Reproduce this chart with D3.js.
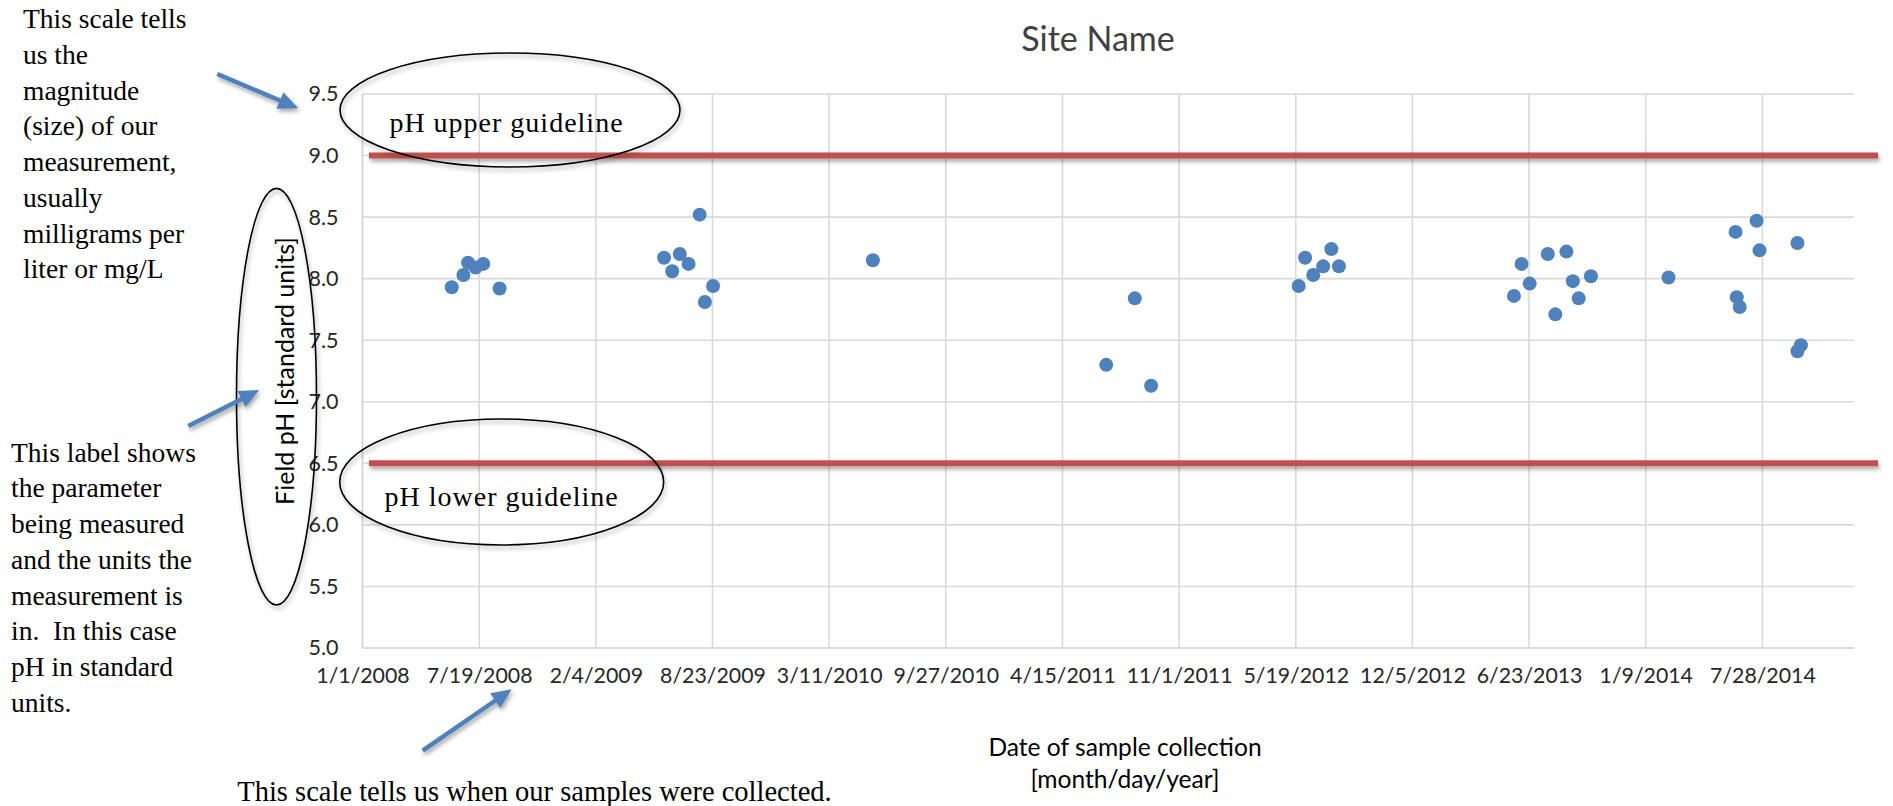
<!DOCTYPE html>
<html><head><meta charset="utf-8">
<script src="https://cdn.jsdelivr.net/npm/d3@7"></script>
<style>body{margin:0;background:#fff} text{white-space:pre}</style>
</head><body>
<svg id="chart" width="1893" height="806"></svg>
<script>
// ---------- data ----------
const sampleDates = ["6/2/2008","6/22/2008","6/30/2008","7/13/2008","7/26/2008","8/23/2008",
  "6/1/2009","6/15/2009","6/28/2009","7/13/2009","8/1/2009","8/10/2009","8/24/2009",
  "5/25/2010",
  "6/29/2011","8/17/2011","9/14/2011",
  "5/24/2012","6/4/2012","6/18/2012","7/5/2012","7/19/2012","8/1/2012",
  "5/28/2013","6/10/2013","6/24/2013","7/25/2013","8/7/2013","8/26/2013","9/6/2013","9/16/2013","10/7/2013",
  "2/17/2014",
  "6/12/2014","6/14/2014","6/19/2014","7/18/2014","7/23/2014","9/26/2014","9/26/2014","10/2/2014"];
const phValues = [7.93,8.03,8.13,8.09,8.12,7.92,
  8.17,8.06,8.20,8.12,8.52,7.81,7.94,
  8.15,
  7.30,7.84,7.13,
  7.94,8.17,8.03,8.10,8.24,8.10,
  7.86,8.12,7.96,8.20,7.71,8.22,7.98,7.84,8.02,
  8.01,
  8.38,7.85,7.77,8.47,8.23,8.29,7.41,7.46];
const xTickLabels = ["1/1/2008","7/19/2008","2/4/2009","8/23/2009","3/11/2010","9/27/2010","4/15/2011",
  "11/1/2011","5/19/2012","12/5/2012","6/23/2013","1/9/2014","7/28/2014"];
const xDomainLabels = ["1/1/2008","1/1/2015"];
const yTickValues = [5.0,5.5,6.0,6.5,7.0,7.5,8.0,8.5,9.0,9.5];
const guidelineValues = [9.0, 6.5];
const guidelineLabels = ["pH upper guideline","pH lower guideline"];
const chartTitle = "Site Name";
const yAxisTitle = "Field pH [standard units]";
const xAxisTitleLines = ["Date of sample collection","[month/day/year]"];
const noteScale = ["This scale tells","us the","magnitude","(size) of our","measurement,","usually","milligrams per","liter or mg/L"];
const noteLabel = ["This label shows","the parameter","being measured","and the units the","measurement is","in.  In this case","pH in standard","units."];
const noteDate = "This scale tells us when our samples were collected.";

// ---------- layout ----------
const parse = d3.utcParse("%m/%d/%Y");
const plot = {left:362.5, right:1854, top:94, bottom:648};
const svg = d3.select("#chart");
const sansFont = "Lato, 'Open Sans', sans-serif";
const serifFont = "'Liberation Serif', 'DejaVu Serif', serif";

const defs = svg.append("defs");
const f = defs.append("filter").attr("id","shadow").attr("filterUnits","userSpaceOnUse")
  .attr("x",0).attr("y",0).attr("width",1893).attr("height",806);
f.append("feDropShadow").attr("dx",1.5).attr("dy",3).attr("stdDeviation",2.2).attr("flood-color","#000").attr("flood-opacity",0.35);

const x = d3.scaleUtc().domain(xDomainLabels.map(parse)).range([plot.left, plot.right]);
const y = d3.scaleLinear().domain([5.0, 9.5]).range([plot.bottom, plot.top]);
const xTicks = xTickLabels.map(parse);

// gridlines
svg.append("g").selectAll("line").data(yTickValues).join("line")
  .attr("x1", plot.left).attr("x2", plot.right)
  .attr("y1", d => y(d)).attr("y2", d => y(d))
  .attr("stroke", d => d === 5.0 ? "#cfcfcf" : "#d9d9d9").attr("stroke-width", 1.6);
svg.append("g").selectAll("line").data(xTicks).join("line")
  .attr("x1", d => x(d)).attr("x2", d => x(d))
  .attr("y1", plot.top).attr("y2", plot.bottom)
  .attr("stroke", (d,i) => i === 0 ? "#cfcfcf" : "#d9d9d9").attr("stroke-width", 1.6);

// axes (labels only)
const yAxis = d3.axisLeft(y).tickValues(yTickValues).tickFormat(d3.format(".1f")).tickSize(0).tickPadding(24);
const gy = svg.append("g").attr("transform", `translate(${plot.left},0)`).call(yAxis);
gy.select(".domain").remove();
gy.selectAll("text").attr("font-family", sansFont).attr("font-size", 21.5).attr("fill", "#262626");

const xAxis = d3.axisBottom(x).tickValues(xTicks).tickFormat((d,i) => xTickLabels[i]).tickSize(0).tickPadding(20);
const gx = svg.append("g").attr("transform", `translate(0,${plot.bottom})`).call(xAxis);
gx.select(".domain").remove();
gx.selectAll("text").attr("font-family", sansFont).attr("font-size", 21.3).attr("fill", "#262626");

// guidelines (red lines)
svg.append("g").attr("filter","url(#shadow)").selectAll("line").data(guidelineValues).join("line")
  .attr("x1", plot.left + 6.5).attr("x2", plot.right + 24)
  .attr("y1", d => y(d)).attr("y2", d => y(d))
  .attr("stroke", "#C0504D").attr("stroke-width", 6);

// points
svg.append("g").selectAll("circle").data(sampleDates.map((d,i) => ({date: parse(d), v: phValues[i]})))
  .join("circle")
  .attr("cx", d => x(d.date)).attr("cy", d => y(d.v)).attr("r", 7)
  .attr("fill", "#4F81BD");

// title and axis titles
svg.append("text").attr("x", 1098).attr("y", 50.7).attr("text-anchor","middle")
  .attr("font-family", sansFont).attr("font-size", 34).attr("fill","#404040").text(chartTitle);
svg.append("text").attr("transform", `translate(294,${(plot.top+plot.bottom)/2}) rotate(-90)`)
  .attr("text-anchor","middle").attr("font-family", sansFont).attr("font-size", 25).attr("fill","#000").text(yAxisTitle);
svg.append("g").selectAll("text").data(xAxisTitleLines).join("text")
  .attr("x", 1125).attr("y", (d,i) => 756 + i*32).attr("text-anchor","middle")
  .attr("font-family", sansFont).attr("font-size", 24.6).attr("fill","#000").text(d => d);

// ellipses
const ellG = svg.append("g").attr("fill","none").attr("stroke","#000").attr("stroke-width",1.6).attr("filter","url(#shadow)");
ellG.append("ellipse").attr("cx",510).attr("cy",110).attr("rx",170).attr("ry",57);
ellG.append("ellipse").attr("cx",501.7).attr("cy",482).attr("rx",162).attr("ry",63);
ellG.append("ellipse").attr("cx",276.5).attr("cy",396.7).attr("rx",40).attr("ry",208.3);

// guideline labels
svg.append("g").selectAll("text").data(guidelineLabels).join("text")
  .attr("x", (d,i) => i === 0 ? 389.4 : 384.6).attr("y", (d,i) => i === 0 ? 131.7 : 506)
  .attr("font-family", serifFont).attr("font-size", 28).attr("letter-spacing", 1).attr("fill","#000").text(d => d);

// notes
svg.append("g").selectAll("text").data(noteScale).join("text")
  .attr("x", 23).attr("y", (d,i) => 28.3 + i*35.7)
  .attr("font-family", serifFont).attr("font-size", 27.5).attr("fill","#000").text(d => d);
svg.append("g").selectAll("text").data(noteLabel).join("text")
  .attr("x", 11).attr("y", (d,i) => 461.7 + i*35.7)
  .attr("font-family", serifFont).attr("font-size", 27.5).attr("fill","#000").text(d => d);
svg.append("text").attr("x", 237.3).attr("y", 800.7)
  .attr("font-family", serifFont).attr("font-size", 28.5).attr("fill","#000").text(noteDate);

// arrows
const arrows = [[[217.3,74],[298.3,108.3]], [[188.3,426],[259.3,390]], [[422.7,750.7],[511.7,689.3]]];
const arrG = svg.append("g").attr("filter","url(#shadow)");
arrows.forEach(([s,t]) => {
  const dx = t[0]-s[0], dy = t[1]-s[1], L = Math.hypot(dx,dy), ux = dx/L, uy = dy/L;
  const hl = 20, hw = 9;
  const bx = t[0]-ux*hl, by = t[1]-uy*hl;
  arrG.append("line").attr("x1",s[0]).attr("y1",s[1]).attr("x2",bx+ux*2).attr("y2",by+uy*2)
    .attr("stroke","#4F81BD").attr("stroke-width",4.5);
  arrG.append("path").attr("d",`M${t[0]},${t[1]}L${bx-uy*hw},${by+ux*hw}L${bx+uy*hw},${by-ux*hw}Z`)
    .attr("fill","#4F81BD");
});
</script>
</body></html>
